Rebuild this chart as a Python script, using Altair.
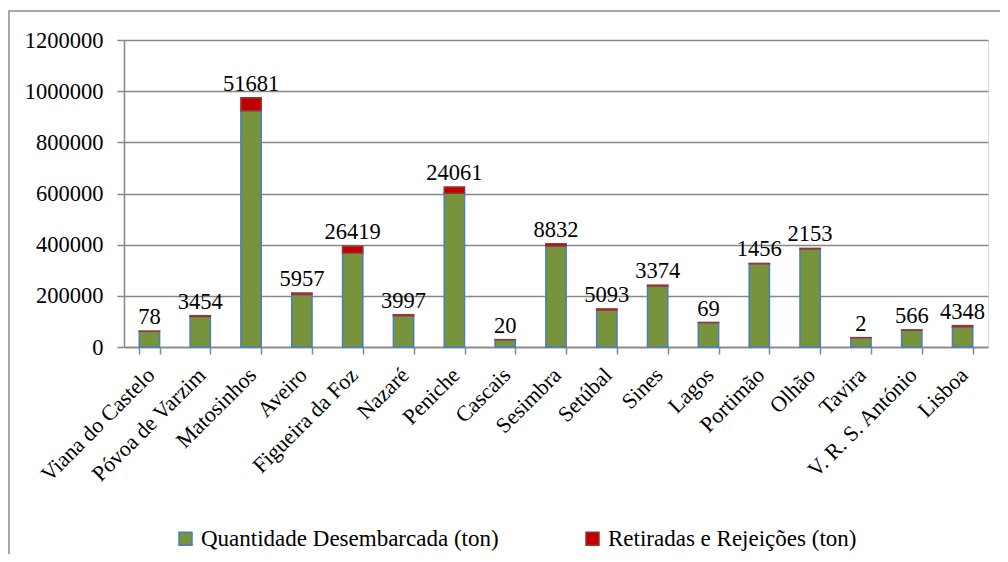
import altair as alt
import pandas as pd

ports = ["Viana do Castelo", "Póvoa de Varzim", "Matosinhos", "Aveiro", "Figueira da Foz",
         "Nazaré", "Peniche", "Cascais", "Sesimbra", "Setúbal", "Sines", "Lagos",
         "Portimão", "Olhão", "Tavira", "V. R. S. António", "Lisboa"]
desembarcada = [61100, 119000, 923000, 205000, 367000, 122400, 601300, 28700, 395000,
                143900, 238400, 95300, 325300, 383400, 36600, 66100, 79300]
retiradas = [78, 3454, 51681, 5957, 26419, 3997, 24061, 20, 8832, 5093, 3374, 69,
             1456, 2153, 2, 566, 4348]
series_names = ["Quantidade Desembarcada (ton)", "Retiradas e Rejeições (ton)"]
y_ticks = [0, 200000, 400000, 600000, 800000, 1000000, 1200000]

rows = []
for p, d, r in zip(ports, desembarcada, retiradas):
    rows.append({"port": p, "series": series_names[0], "value": d, "ord": 0})
    rows.append({"port": p, "series": series_names[1], "value": r, "ord": 1})
df = pd.DataFrame(rows)
labels_df = pd.DataFrame({"port": ports,
                          "total": [d + r for d, r in zip(desembarcada, retiradas)],
                          "label": [str(r) for r in retiradas]})

FONT = "Liberation Serif"
GRID = "#878787"

x_enc = alt.X("port:N", sort=ports, title=None,
              scale=alt.Scale(paddingInner=0.6, paddingOuter=0.3),
              axis=alt.Axis(labelAngle=-45, labelFont=FONT, labelFontSize=22,
                            labelColor="#000000", domainColor=GRID, domainWidth=1.5,
                            tickColor=GRID, tickWidth=1.5, tickSize=7, tickBand="extent",
                            labelPadding=10, labelOffset=-6, grid=False))

bars = alt.Chart(df).mark_bar(strokeWidth=1.5).encode(
    x=x_enc,
    y=alt.Y("value:Q", stack="zero", title=None,
            scale=alt.Scale(domain=[0, 1200000], nice=False),
            axis=alt.Axis(values=y_ticks, format="d", labelFont=FONT, labelFontSize=22.5,
                          labelColor="#000000", gridColor=GRID, gridWidth=1.5,
                          domainColor=GRID, domainWidth=1.5, tickColor=GRID,
                          tickWidth=1.5, tickSize=7, labelPadding=14)),
    color=alt.Color("series:N", title=None,
                    scale=alt.Scale(domain=series_names, range=["#77933c", "#c00000"]),
                    legend=alt.Legend(orient="none", direction="horizontal",
                                      legendX=50, legendY=487,
                                      symbolType="square", symbolSize=169,
                                      symbolStrokeWidth=1.5, labelFont=FONT,
                                      labelFontSize=23, labelColor="#000000",
                                      labelOffset=4, columnPadding=82, padding=0,
                                      labelLimit=400)),
    stroke=alt.Stroke("series:N", title=None,
                      scale=alt.Scale(domain=series_names, range=["#4a7ebb", "#953735"])),
    order=alt.Order("ord:Q", sort="ascending"),
)

text = alt.Chart(labels_df).mark_text(font=FONT, fontSize=22.5, color="#000000",
                                      baseline="alphabetic", dy=-7).encode(
    x=alt.X("port:N", sort=ports),
    y=alt.Y("total:Q"),
    text="label:N",
)

frame = alt.Chart(pd.DataFrame({"a": [0]})).mark_rect(
    fill=None, stroke="#8c8c8c", strokeWidth=1.5).encode(
    x=alt.value(-115), x2=alt.value(1000), y=alt.value(-29), y2=alt.value(700))

chart = alt.layer(bars, text, frame).properties(
    width=864, height=307,
    padding={"left": 116, "top": 32, "right": 12, "bottom": 207},
    autosize=alt.AutoSizeParams(type="none"),
).configure_view(stroke=None, fill="#e6e6e6").configure(background="#ffffff", font=FONT)

chart.save("out.html", embed_options={"renderer": "svg", "actions": False})
